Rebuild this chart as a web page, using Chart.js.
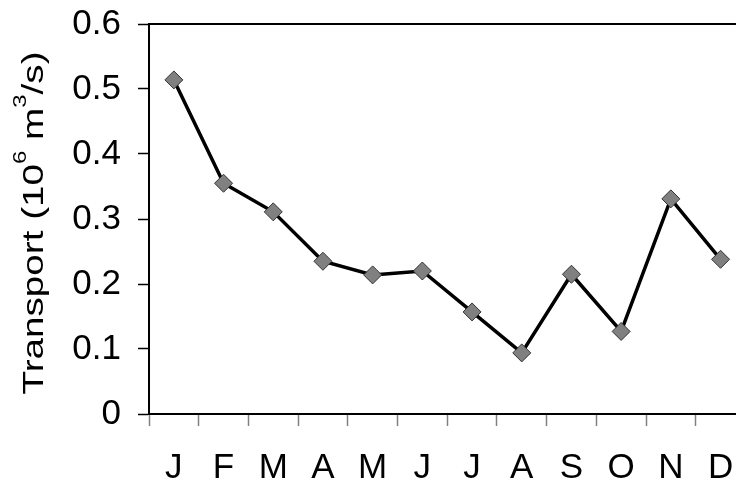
<!DOCTYPE html>
<html>
<head>
<meta charset="utf-8">
<script src="https://cdn.jsdelivr.net/npm/chart.js@4/dist/chart.umd.min.js"></script>
<style>
  html, body { margin: 0; padding: 0; background: #fff; overflow: hidden; }
  #wrap { width: 760px; height: 481px; }
</style>
</head>
<body>
<div id="wrap"><canvas id="c" width="760" height="481"></canvas></div>
<script>
// Monthly transport, Jan..Dec
const months = ['J', 'F', 'M', 'A', 'M', 'J', 'J', 'A', 'S', 'O', 'N', 'D'];
const transport = [0.514, 0.355, 0.311, 0.235, 0.214, 0.220, 0.157, 0.094, 0.215, 0.127, 0.331, 0.238];
const yTicks = [0, 0.1, 0.2, 0.3, 0.4, 0.5, 0.6];
const yTitleParts = [
  { text: 'Transport (10', sup: false },
  { text: '6', sup: true },
  { text: ' m', sup: false },
  { text: '3', sup: true },
  { text: '/s)', sup: false }
];

const FONT = 'Liberation Sans, Arial, Helvetica, sans-serif';

// Rotated y-axis title with superscripts, plus the top frame line
const framePlugin = {
  id: 'frameAndTitle',
  afterDraw(chart) {
    const ctx = chart.ctx;
    const a = chart.chartArea;
    ctx.save();
    ctx.strokeStyle = '#000';
    ctx.lineWidth = 2;
    ctx.beginPath();
    ctx.moveTo(a.left - 1, a.top);
    ctx.lineTo(chart.width, a.top);
    ctx.stroke();
    ctx.restore();

    const mainFont = '29px ' + FONT;
    const supFont = '18px ' + FONT;
    ctx.save();
    let total = 0;
    const widths = yTitleParts.map(p => {
      ctx.font = p.sup ? supFont : mainFont;
      const w = ctx.measureText(p.text).width;
      total += w;
      return w;
    });
    const targetLen = 343;
    const sx = targetLen / total;
    const cy = (a.top + a.bottom) / 2 + 4;
    ctx.translate(43, cy);
    ctx.rotate(-Math.PI / 2);
    ctx.scale(sx, 1);
    ctx.fillStyle = '#000';
    ctx.textBaseline = 'alphabetic';
    ctx.textAlign = 'left';
    let x = -total / 2;
    yTitleParts.forEach((p, i) => {
      ctx.font = p.sup ? supFont : mainFont;
      ctx.fillText(p.text, x, p.sup ? -17 : 0);
      x += widths[i];
    });
    ctx.restore();
  }
};

new Chart(document.getElementById('c'), {
  type: 'line',
  data: {
    labels: months,
    datasets: [{
      data: transport,
      borderColor: '#000',
      borderWidth: 3.5,
      pointStyle: 'rectRot',
      pointRadius: 9,
      pointHoverRadius: 9,
      pointBackgroundColor: '#808080',
      pointBorderColor: '#333',
      pointBorderWidth: 1,
      tension: 0,
      fill: false
    }]
  },
  options: {
    responsive: false,
    devicePixelRatio: 1,
    animation: false,
    events: [],
    layout: { padding: { top: 24, right: 14.6, bottom: 0, left: 0 } },
    plugins: {
      legend: { display: false },
      tooltip: { enabled: false },
      title: { display: false }
    },
    scales: {
      x: {
        type: 'category',
        offset: true,
        grid: {
          offset: true,
          drawOnChartArea: false,
          drawTicks: true,
          tickLength: 12,
          tickColor: '#808080',
          tickWidth: 1.5
        },
        border: { display: true, color: '#000', width: 2 },
        ticks: {
          color: '#000',
          font: { family: FONT, size: 35 },
          padding: 21,
          maxRotation: 0,
          autoSkip: false
        },
        afterFit(scale) {
          scale.height = 67;
          scale.paddingLeft = 0;
          scale.paddingRight = 0;
        }
      },
      y: {
        min: 0,
        max: 0.6,
        afterBuildTicks(scale) {
          scale.ticks = yTicks.map(v => ({ value: v }));
        },
        grid: {
          drawOnChartArea: false,
          drawTicks: true,
          tickLength: 11,
          tickColor: '#000',
          tickWidth: 1.5
        },
        border: { display: true, color: '#000', width: 2 },
        ticks: {
          color: '#000',
          font: { family: FONT, size: 35 },
          padding: 17,
          callback: v => (v === 0 ? '0' : v.toFixed(1))
        },
        title: { display: false },
        afterFit(scale) {
          scale.width = 149;
          scale.paddingTop = 0;
          scale.paddingBottom = 0;
        }
      }
    }
  },
  plugins: [framePlugin]
});
</script>
</body>
</html>
